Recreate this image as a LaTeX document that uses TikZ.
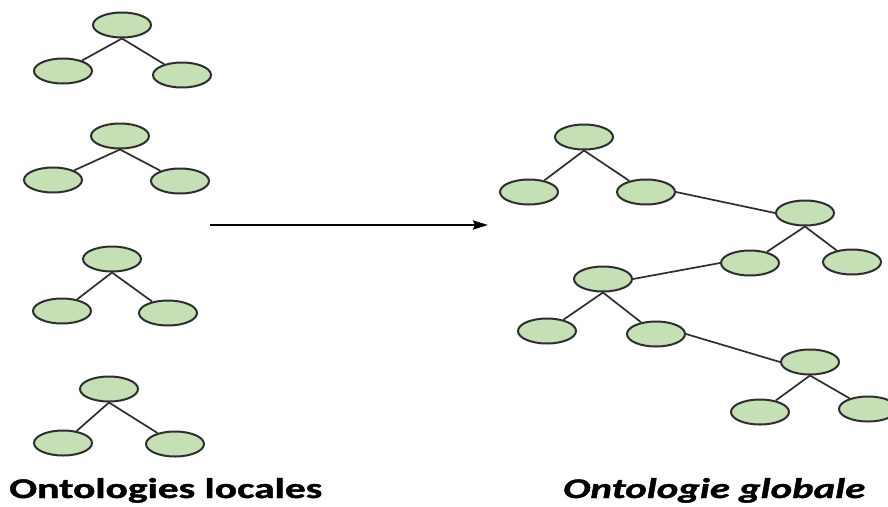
\documentclass[tikz,border=0pt]{standalone}
\usepackage{fontspec}
\setmainfont{Carlito}
\newfontfamily\heavyfont[FakeBold=1.2]{Carlito Bold}
\newfontfamily\heavyitfont[FakeBold=1.2]{Carlito Bold Italic}
\usetikzlibrary{arrows.meta,shapes.geometric}
\definecolor{leaf}{HTML}{C5E0B4}
\definecolor{edgegray}{HTML}{2E2E2E}
\begin{document}
\begin{tikzpicture}[x=1pt,y=-1pt,
  concept/.style={ellipse, draw=edgegray, line width=2pt, fill=leaf,
    minimum width=58pt, minimum height=25pt, inner sep=0pt},
  link/.style={draw=edgegray, line width=1.7pt},
  caption/.style={anchor=base west, inner sep=0pt}]
\clip (0,0) rectangle (888,506);
\fill[white] (0,0) rectangle (888,506);

% local ontologies
\node[concept] (p1) at (122,25) {};
\node[concept] (l1) at (63,71) {};
\node[concept] (r1) at (182,75) {};
\node[concept] (p2) at (120,136) {};
\node[concept] (l2) at (53,180) {};
\node[concept] (r2) at (180,181) {};
\node[concept] (p3) at (112,259) {};
\node[concept] (l3) at (62,311) {};
\node[concept] (r3) at (168,313) {};
\node[concept] (p4) at (109,389) {};
\node[concept] (l4) at (63,443) {};
\node[concept] (r4) at (175,444) {};
\foreach \t in {1,2,3,4}{
  \draw[link] (p\t.south) -- (l\t);
  \draw[link] (p\t.south) -- (r\t);
}

% global ontology
\node[concept] (a) at (584,137) {};
\node[concept] (b) at (529,192) {};
\node[concept] (c) at (646,192) {};
\node[concept] (d) at (805,213) {};
\node[concept] (e) at (750,263) {};
\node[concept] (f) at (852,262) {};
\node[concept] (g) at (603,279) {};
\node[concept] (h) at (547,331) {};
\node[concept] (i) at (656,334) {};
\node[concept] (j) at (810,362) {};
\node[concept] (k) at (760,412) {};
\node[concept] (l) at (868,409) {};
\draw[link] (a.south) -- (b);
\draw[link] (a.south) -- (c);
\draw[link] (c.east) -- (d.west);
\draw[link] (d.south) -- (e);
\draw[link] (d.south) -- (f);
\draw[link] (g.east) -- (e.west);
\draw[link] (g.south) -- (h);
\draw[link] (g.south) -- (i);
\draw[link] (i.east) -- (j.west);
\draw[link] (j.south) -- (k);
\draw[link] (j.south) -- (l);

% merge arrow
\coordinate (src) at (210,225);
\coordinate (dst) at (488,225);
\draw[line width=2.4pt, -{Stealth[length=15pt,width=9pt,inset=2pt]}] (src) -- (dst);

% captions
\node[caption] (loc) at (9,498) {\resizebox{313pt}{20pt}{\heavyfont Ontologies locales}};
\node[caption] (glo) at (563,498) {\resizebox{302pt}{20pt}{\heavyitfont Ontologie globale}};
\end{tikzpicture}
\end{document}
